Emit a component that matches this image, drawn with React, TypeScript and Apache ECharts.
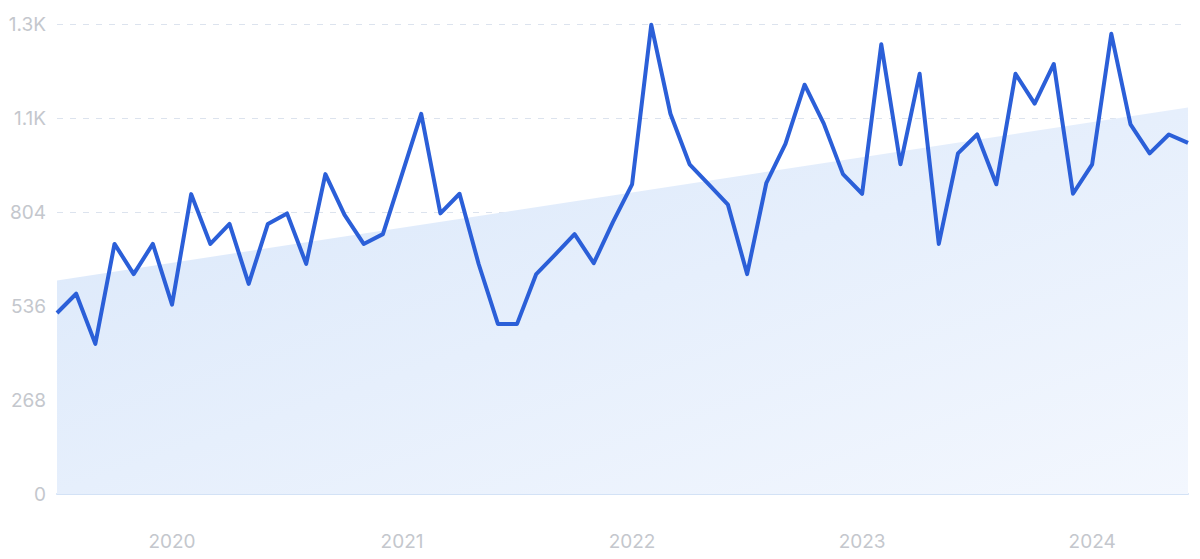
import React, { useEffect, useRef } from "react";
import * as echarts from "echarts";

const months: string[] = [];
for (let y = 2019; y <= 2024; y++) {
  for (let m = 1; m <= 12; m++) {
    const key = `${y}-${String(m).padStart(2, "0")}`;
    if (key >= "2019-07" && key <= "2024-06") months.push(key);
  }
}

const searches = [
  516, 571, 428, 713, 627, 713, 540, 855, 713, 770, 599, 770,
  800, 656, 912, 796, 713, 741, 912, 1084, 800, 856, 655, 485,
  485, 627, 683, 741, 658, 775, 883, 1338, 1084, 940, 883, 825,
  627, 886, 998, 1167, 1056, 912, 856, 1282, 940, 1198, 713, 971,
  1025, 883, 1198, 1113, 1226, 856, 940, 1312, 1054, 971, 1025, 1001,
];

const trendStart = 609;
const trendEnd = 1102;

const yTicks = [0, 268, 536, 804, 1072, 1340];
const yTickLabels = ["0", "268", "536", "804", "1.1K", "1.3K"];

export default function App() {
  const ref = useRef<HTMLDivElement>(null);
  useEffect(() => {
    if (!ref.current) return;
    const chart = echarts.init(ref.current, undefined, { renderer: "svg" });
    const trend = months.map((_, i) =>
      i === 0 ? trendStart : i === months.length - 1 ? trendEnd : null
    );
    chart.setOption({
      animation: false,
      grid: { left: 57, right: 12, top: 24, bottom: 65 },
      xAxis: {
        type: "category",
        data: months,
        boundaryGap: false,
        axisLine: { show: true, lineStyle: { color: "#d3e2f6", width: 2 } },
        axisTick: { show: false },
        splitLine: { show: false },
        axisLabel: {
          interval: (i: number) => months[i].endsWith("-01"),
          formatter: (v: string) => v.slice(0, 4),
          color: "#c4c7cd",
          fontSize: 19,
          fontFamily: "Inter",
          margin: 38,
        },
      },
      yAxis: {
        type: "value",
        min: 0,
        max: 1340,
        interval: 268,
        axisLine: { show: false },
        axisTick: { show: false },
        splitLine: {
          show: true,
          lineStyle: { color: "#dce3ee", type: [6, 7], width: 1 },
        },
        axisLabel: {
          color: "#c4c7cd",
          fontSize: 19,
          fontFamily: "Inter",
          margin: 11,
          formatter: (v: number) => {
            const idx = yTicks.indexOf(v);
            return idx >= 0 ? yTickLabels[idx] : String(v);
          },
        },
      },
      series: [
        {
          type: "line",
          data: trend,
          connectNulls: true,
          symbol: "none",
          lineStyle: { width: 0, opacity: 0 },
          areaStyle: {
            color: new echarts.graphic.LinearGradient(0, 0, 1, 1, [
              { offset: 0, color: "#d9e7fa" },
              { offset: 1, color: "#f3f7fe" },
            ]),
            opacity: 1,
          },
          silent: true,
          z: 1,
        },
        {
          type: "line",
          data: searches,
          symbol: "none",
          lineStyle: { color: "#2b5fd8", width: 4, join: "round" },
          z: 3,
        },
      ],
    });
    return () => chart.dispose();
  }, []);
  return (
    <div
      ref={ref}
      style={{ position: "fixed", left: 0, top: 0, width: 1200, height: 559, background: "#fff" }}
    />
  );
}
